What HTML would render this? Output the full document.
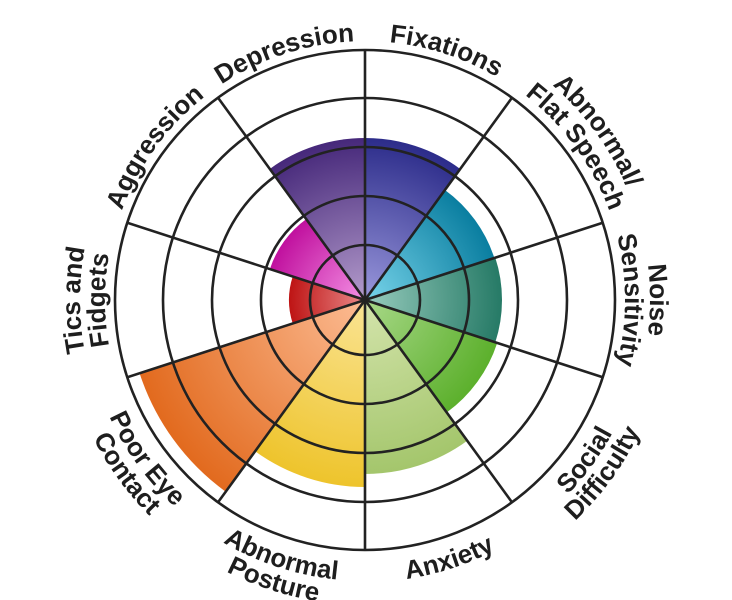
<!DOCTYPE html>
<html><head><meta charset="utf-8">
<style>
html,body{margin:0;padding:0;background:#fff;width:732px;height:600px;overflow:hidden}
svg{display:block}
text{font-family:"Liberation Sans",sans-serif;font-weight:bold;font-size:26px;fill:#1e1e1e}
</style></head>
<body>
<svg id="s" width="732" height="600" viewBox="0 0 732 600" xmlns="http://www.w3.org/2000/svg"></svg>
<script>
const cx=365,cy=300;
function P(r,a){const t=a*Math.PI/180;return [cx+r*Math.sin(t),cy-r*Math.cos(t)];}
const sectors=[
 [162,'#9a98dc','#2c2c8a'],
 [136,'#78d4ea','#0a7ea0'],
 [137,'#98ccbe','#267a66'],
 [139,'#a8d888','#5cb02c'],
 [174,'#d4e4ac','#a4c66c'],
 [187,'#fae494','#eec42c'],
 [237,'#fcbc94','#e26a1e'],
 [76,'#ea8a8a','#be1414'],
 [100,'#f490e4','#c0109e'],
 [162,'#b49ccc','#46287a']
];
let html='<defs>';
sectors.forEach((d,i)=>{html+=`<radialGradient id="g${i}" gradientUnits="userSpaceOnUse" cx="${cx}" cy="${cy}" r="${d[0]}"><stop offset="0" stop-color="${d[1]}"/><stop offset="1" stop-color="${d[2]}"/></radialGradient>`;});
html+='</defs>';
sectors.forEach((d,i)=>{
 const a0=i*36,a1=a0+36,r=d[0];
 const p0=P(r,a0),p1=P(r,a1);
 html+=`<path d="M${cx},${cy}L${p0[0]},${p0[1]}A${r},${r} 0 0 1 ${p1[0]},${p1[1]}Z" fill="url(#g${i})"/>`;
});
[55,104,153,202,250].forEach(r=>{html+=`<circle cx="${cx}" cy="${cy}" r="${r}" fill="none" stroke="#222" stroke-width="2.6"/>`;});
for(let i=0;i<10;i++){const p=P(250,i*36);html+=`<line x1="${cx}" y1="${cy}" x2="${p[0]}" y2="${p[1]}" stroke="#222" stroke-width="2.6"/>`;}
let pid=0;
function label(txt,a,R,top){
 let d;
 if(top){const p0=P(R,a-90),p1=P(R,a+90);d=`M${p0[0]},${p0[1]}A${R},${R} 0 0 1 ${p1[0]},${p1[1]}`;}
 else{const p0=P(R,a+90),p1=P(R,a-90);d=`M${p0[0]},${p0[1]}A${R},${R} 0 0 0 ${p1[0]},${p1[1]}`;}
 const id='t'+(pid++);
 html+=`<path id="${id}" d="${d}" fill="none"/><text text-anchor="middle"><textPath href="#${id}" startOffset="50%">${txt}</textPath></text>`;
}
label('Depression',-18,259,true);
label('Fixations',18,259,true);
label('Abnormal/',54,285,true);label('Flat Speech',54,260,true);
label('Noise',90,285,true);label('Sensitivity',90,260,true);
label('Social',126,281,false);label('Difficulty',126,305,false);
label('Anxiety',162,282,false);
label('Abnormal',198,281,false);label('Posture',198,305,false);
label('Poor Eye',234,281,false);label('Contact',234,305,false);
label('Tics and',270,285,true);label('Fidgets',270,260,true);
label('Aggression',306,259,true);
s.innerHTML=html;
</script>
</body></html>
